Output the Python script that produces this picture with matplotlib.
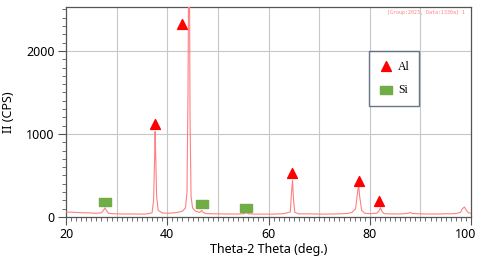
import matplotlib.pyplot as plt
from matplotlib.ticker import MultipleLocator, FuncFormatter

# XRD pattern (2theta in deg, intensity in CPS)
two_theta = [20, 21, 22, 23, 24, 25, 26, 27.0, 27.4, 27.7, 28.0, 28.4, 29, 30, 32, 34, 35, 36, 37.0,
             37.3, 37.5, 37.6, 37.7, 37.9, 38.2, 39, 40, 41, 42, 43, 43.6, 43.9, 44.1, 44.2, 44.3,
             44.4, 44.5, 44.7, 45.0, 45.5, 46.3, 46.6, 46.8, 47.0, 47.4, 48, 50, 52, 54, 55.2,
             55.6, 56.0, 57, 59, 61, 63, 64.3, 64.55, 64.75, 64.95, 65.2, 66, 68, 70, 72, 74,
             75.5, 76.5, 77.2, 77.6, 77.8, 78.0, 78.4, 79, 80, 81.4, 81.8, 82.1, 82.4, 82.8,
             84, 86, 87.6, 88.0, 88.4, 90, 92, 94, 95, 96, 97, 97.9, 98.3, 98.7, 99.1, 99.5, 100]
counts = [60, 58, 55, 52, 50, 48, 45, 50, 80, 110, 75, 45, 40, 38, 36, 36, 35, 38, 50,
          200, 700, 1030, 800, 250, 80, 50, 45, 48, 55, 70, 110, 300, 1500, 2700, 2700,
          2700, 1200, 250, 110, 75, 55, 65, 80, 60, 45, 40, 38, 36, 36, 40,
          55, 40, 35, 35, 35, 40, 60, 300, 440, 200, 55, 38, 38, 35, 36, 38,
          42, 55, 100, 300, 400, 250, 80, 45, 40, 45, 70, 110, 70, 40,
          38, 36, 45, 55, 42, 38, 36, 36, 40, 38, 42, 55, 100, 120, 80, 50, 45]

# reflection markers
al_x = [37.6, 43.0, 64.6, 77.8, 81.9]
al_y = [1120, 2330, 530, 430, 190]
si_x = [27.7, 46.9, 55.6]
si_y = [185, 160, 110]

X_MAX = 100

plt.rcParams["font.family"] = ["Noto Sans", "DejaVu Sans"]

fig = plt.figure(figsize=(4.8, 2.58), dpi=100)
ax = fig.add_axes([66 / 480, 1 - 217 / 258, 405 / 480, 210 / 258])

rect = [(-1.5, -1), (1.5, -1), (1.5, 1), (-1.5, 1), (-1.5, -1)]
ax.plot(two_theta, counts, color="#ff8080", lw=0.8, zorder=3)
ax.scatter(al_x, al_y, marker="^", s=50, color="#ff0000", zorder=4, label="Al")
ax.scatter(si_x, si_y, marker=rect, s=70, color="#70ad47", zorder=4, label="Si")

ax.set_xlim(20, X_MAX)
ax.set_ylim(0, 2530)
ax.xaxis.set_major_locator(MultipleLocator(20))
ax.xaxis.set_minor_locator(MultipleLocator(1))
# the last label is drawn separately so it stays inside the figure
ax.xaxis.set_major_formatter(FuncFormatter(lambda v, p: "" if v >= X_MAX else f"{v:g}"))
ax.yaxis.set_major_locator(MultipleLocator(1000))
ax.yaxis.set_minor_locator(MultipleLocator(100))
for v in range(30, 100, 10):
    ax.axvline(v, color="#c8c8c8", lw=0.8, zorder=1)
for v in (1000, 2000):
    ax.axhline(v, color="#c8c8c8", lw=0.8, zorder=1)
ax.tick_params(which="major", length=6, width=0.8, color="#555555", labelsize=9, pad=2)
ax.tick_params(which="minor", length=3, width=0.6, color="#555555")
for s in ax.spines.values():
    s.set_color("#555555")
    s.set_linewidth(0.9)

ax.annotate(f"{X_MAX}", xy=(X_MAX, 0), xycoords=("data", "axes fraction"), xytext=(-4, -8),
            textcoords="offset points", ha="center", va="top", fontsize=9)

ax.set_xlabel("Theta-2 Theta (deg.)", fontsize=9, labelpad=1)
ax.set_ylabel("II (CPS)", fontsize=9, labelpad=8)

ax.text(0.985, 0.985, "[Group:2023, Data:1330a] 1", transform=ax.transAxes, ha="right", va="top",
        fontsize=3.6, color="#ff8080", family="DejaVu Sans Mono")

leg = ax.legend(loc="upper left", bbox_to_anchor=(0.747, 0.79), frameon=True, fancybox=False,
                prop={"family": "Liberation Serif", "size": 8.5}, handletextpad=0.3,
                borderpad=0.8, labelspacing=1.0, handlelength=1.4, scatterpoints=1,
                borderaxespad=0)
leg.get_frame().set_edgecolor("#44546a")
leg.get_frame().set_linewidth(1.0)

fig.savefig("out.png", dpi=100)
